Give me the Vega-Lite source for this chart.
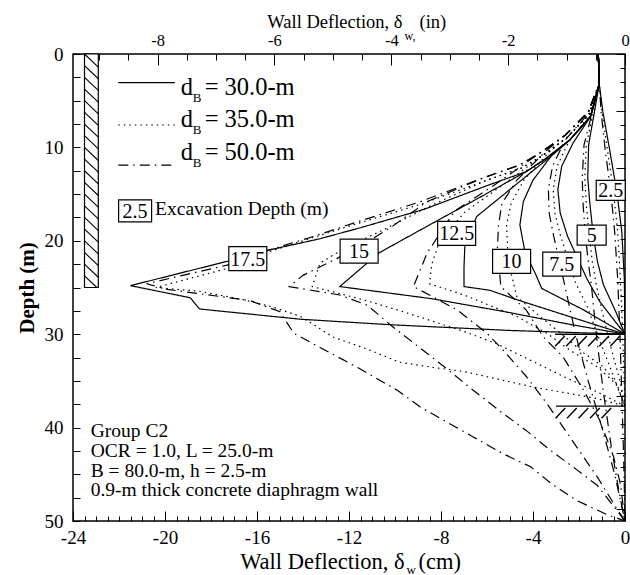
{
  "$schema": "https://vega.github.io/schema/vega-lite/v6.json",
  "width": 552,
  "height": 467,
  "autosize": {"type": "none"},
  "padding": {"left": 73, "top": 54, "right": 5, "bottom": 54},
  "background": "white",
  "config": {
    "view": {"stroke": "black", "strokeWidth": 1.5},
    "font": "Liberation Serif",
    "axis": {
      "grid": false, "domain": false, "tickColor": "black", "tickWidth": 1,
      "labelColor": "black", "titleColor": "black",
      "labelFont": "Liberation Serif", "titleFont": "Liberation Serif",
      "titleFontWeight": "normal", "labelOverlap": false, "labelFlush": false
    },
    "text": {"font": "Liberation Serif", "color": "black"}
  },
  "datasets": {
    "curves": [
      {"dB":30,"exc":2.5,"x":-1.16,"depth":0},{"dB":30,"exc":2.5,"x":-1.12,"depth":3.2},{"dB":30,"exc":2.5,"x":-0.96,"depth":6.2},{"dB":30,"exc":2.5,"x":-0.65,"depth":10.5},{"dB":30,"exc":2.5,"x":-0.36,"depth":14.7},{"dB":30,"exc":2.5,"x":-0.14,"depth":19},{"dB":30,"exc":2.5,"x":-0.03,"depth":24},{"dB":30,"exc":2.5,"x":0,"depth":30},
      {"dB":30,"exc":5,"x":-1.16,"depth":0},{"dB":30,"exc":5,"x":-1.12,"depth":3.2},{"dB":30,"exc":5,"x":-1.35,"depth":6.5},{"dB":30,"exc":5,"x":-1.58,"depth":9.7},{"dB":30,"exc":5,"x":-1.62,"depth":13.3},{"dB":30,"exc":5,"x":-1.52,"depth":16.2},{"dB":30,"exc":5,"x":-1.38,"depth":19.4},{"dB":30,"exc":5,"x":-1.2,"depth":22.2},{"dB":30,"exc":5,"x":-0.94,"depth":24.7},{"dB":30,"exc":5,"x":-0.4,"depth":27.6},{"dB":30,"exc":5,"x":0,"depth":30},
      {"dB":30,"exc":7.5,"x":-1.16,"depth":0},{"dB":30,"exc":7.5,"x":-1.12,"depth":3.2},{"dB":30,"exc":7.5,"x":-1.5,"depth":6.7},{"dB":30,"exc":7.5,"x":-2.25,"depth":9.5},{"dB":30,"exc":7.5,"x":-2.75,"depth":12},{"dB":30,"exc":7.5,"x":-2.92,"depth":14.5},{"dB":30,"exc":7.5,"x":-2.82,"depth":17},{"dB":30,"exc":7.5,"x":-2.5,"depth":19.5},{"dB":30,"exc":7.5,"x":-2.0,"depth":22.2},{"dB":30,"exc":7.5,"x":-1.67,"depth":24},{"dB":30,"exc":7.5,"x":-1.1,"depth":26.5},{"dB":30,"exc":7.5,"x":0,"depth":30},
      {"dB":30,"exc":10,"x":-1.16,"depth":0},{"dB":30,"exc":10,"x":-1.12,"depth":3.2},{"dB":30,"exc":10,"x":-1.5,"depth":6.7},{"dB":30,"exc":10,"x":-2.4,"depth":9.2},{"dB":30,"exc":10,"x":-3.2,"depth":10.9},{"dB":30,"exc":10,"x":-4.0,"depth":13.5},{"dB":30,"exc":10,"x":-4.42,"depth":15.8},{"dB":30,"exc":10,"x":-4.57,"depth":18.3},{"dB":30,"exc":10,"x":-4.35,"depth":21.2},{"dB":30,"exc":10,"x":-3.9,"depth":23.5},{"dB":30,"exc":10,"x":-3.62,"depth":25.1},{"dB":30,"exc":10,"x":-1.8,"depth":27.4},{"dB":30,"exc":10,"x":0,"depth":30},
      {"dB":30,"exc":12.5,"x":-1.16,"depth":0},{"dB":30,"exc":12.5,"x":-1.12,"depth":3.2},{"dB":30,"exc":12.5,"x":-1.5,"depth":6.7},{"dB":30,"exc":12.5,"x":-2.4,"depth":9.2},{"dB":30,"exc":12.5,"x":-3.4,"depth":11.3},{"dB":30,"exc":12.5,"x":-5.0,"depth":14.5},{"dB":30,"exc":12.5,"x":-6.45,"depth":17.4},{"dB":30,"exc":12.5,"x":-6.96,"depth":20.4},{"dB":30,"exc":12.5,"x":-7.0,"depth":22.8},{"dB":30,"exc":12.5,"x":-7.0,"depth":24.9},{"dB":30,"exc":12.5,"x":-5.87,"depth":25.3},{"dB":30,"exc":12.5,"x":-4.71,"depth":26.3},{"dB":30,"exc":12.5,"x":-2.68,"depth":27.9},{"dB":30,"exc":12.5,"x":0,"depth":30},
      {"dB":30,"exc":15,"x":-1.16,"depth":0},{"dB":30,"exc":15,"x":-1.12,"depth":3.2},{"dB":30,"exc":15,"x":-1.5,"depth":6.7},{"dB":30,"exc":15,"x":-2.4,"depth":9.2},{"dB":30,"exc":15,"x":-3.5,"depth":11.3},{"dB":30,"exc":15,"x":-4.3,"depth":12.6},{"dB":30,"exc":15,"x":-6.5,"depth":15.6},{"dB":30,"exc":15,"x":-8.5,"depth":18.3},{"dB":30,"exc":15,"x":-10.7,"depth":21.3},{"dB":30,"exc":15,"x":-12.4,"depth":24.9},{"dB":30,"exc":15,"x":-8.4,"depth":26.2},{"dB":30,"exc":15,"x":-5.2,"depth":27.6},{"dB":30,"exc":15,"x":-2.5,"depth":28.9},{"dB":30,"exc":15,"x":0,"depth":30},
      {"dB":30,"exc":17.5,"x":-1.16,"depth":0},{"dB":30,"exc":17.5,"x":-1.12,"depth":3.2},{"dB":30,"exc":17.5,"x":-1.5,"depth":6.7},{"dB":30,"exc":17.5,"x":-2.4,"depth":9.2},{"dB":30,"exc":17.5,"x":-3.5,"depth":11.3},{"dB":30,"exc":17.5,"x":-4.3,"depth":12.6},{"dB":30,"exc":17.5,"x":-5.9,"depth":14.0},{"dB":30,"exc":17.5,"x":-8.7,"depth":16.6},{"dB":30,"exc":17.5,"x":-11.5,"depth":18.6},{"dB":30,"exc":17.5,"x":-13.3,"depth":19.8},{"dB":30,"exc":17.5,"x":-15.5,"depth":21.0},{"dB":30,"exc":17.5,"x":-17.3,"depth":22.2},{"dB":30,"exc":17.5,"x":-21.5,"depth":24.8},{"dB":30,"exc":17.5,"x":-18.9,"depth":26.1},{"dB":30,"exc":17.5,"x":-18.5,"depth":27.3},{"dB":30,"exc":17.5,"x":-14.1,"depth":28.4},{"dB":30,"exc":17.5,"x":-10.1,"depth":29.0},{"dB":30,"exc":17.5,"x":-5,"depth":29.6},{"dB":30,"exc":17.5,"x":0,"depth":30},

      {"dB":35,"exc":2.5,"x":-1.16,"depth":0},{"dB":35,"exc":2.5,"x":-1.12,"depth":3.2},{"dB":35,"exc":2.5,"x":-1.0,"depth":6.2},{"dB":35,"exc":2.5,"x":-0.75,"depth":10.5},{"dB":35,"exc":2.5,"x":-0.5,"depth":14.7},{"dB":35,"exc":2.5,"x":-0.32,"depth":19},{"dB":35,"exc":2.5,"x":-0.2,"depth":24},{"dB":35,"exc":2.5,"x":-0.1,"depth":30},{"dB":35,"exc":2.5,"x":0,"depth":37.7},
      {"dB":35,"exc":5,"x":-1.16,"depth":0},{"dB":35,"exc":5,"x":-1.12,"depth":3.2},{"dB":35,"exc":5,"x":-1.4,"depth":6.5},{"dB":35,"exc":5,"x":-1.68,"depth":9.7},{"dB":35,"exc":5,"x":-1.75,"depth":13.3},{"dB":35,"exc":5,"x":-1.68,"depth":16.2},{"dB":35,"exc":5,"x":-1.56,"depth":19.4},{"dB":35,"exc":5,"x":-1.42,"depth":22.2},{"dB":35,"exc":5,"x":-1.25,"depth":24.7},{"dB":35,"exc":5,"x":-0.95,"depth":28},{"dB":35,"exc":5,"x":-0.55,"depth":32},{"dB":35,"exc":5,"x":-0.22,"depth":35},{"dB":35,"exc":5,"x":0,"depth":37.7},
      {"dB":35,"exc":7.5,"x":-1.16,"depth":0},{"dB":35,"exc":7.5,"x":-1.12,"depth":3.2},{"dB":35,"exc":7.5,"x":-1.55,"depth":6.6},{"dB":35,"exc":7.5,"x":-2.45,"depth":9.4},{"dB":35,"exc":7.5,"x":-2.95,"depth":12},{"dB":35,"exc":7.5,"x":-3.12,"depth":14.5},{"dB":35,"exc":7.5,"x":-3.05,"depth":17},{"dB":35,"exc":7.5,"x":-2.8,"depth":19.5},{"dB":35,"exc":7.5,"x":-2.45,"depth":22.2},{"dB":35,"exc":7.5,"x":-2.15,"depth":24.5},{"dB":35,"exc":7.5,"x":-1.65,"depth":27},{"dB":35,"exc":7.5,"x":-1.05,"depth":31},{"dB":35,"exc":7.5,"x":-0.5,"depth":34.5},{"dB":35,"exc":7.5,"x":0,"depth":37.7},
      {"dB":35,"exc":10,"x":-1.16,"depth":0},{"dB":35,"exc":10,"x":-1.12,"depth":3.2},{"dB":35,"exc":10,"x":-1.55,"depth":6.4},{"dB":35,"exc":10,"x":-2.5,"depth":8.9},{"dB":35,"exc":10,"x":-3.3,"depth":10.5},{"dB":35,"exc":10,"x":-4.4,"depth":13.5},{"dB":35,"exc":10,"x":-4.95,"depth":16},{"dB":35,"exc":10,"x":-5.15,"depth":18.3},{"dB":35,"exc":10,"x":-5.1,"depth":21},{"dB":35,"exc":10,"x":-4.95,"depth":23.5},{"dB":35,"exc":10,"x":-4.7,"depth":26},{"dB":35,"exc":10,"x":-3.7,"depth":28.1},{"dB":35,"exc":10,"x":-2.7,"depth":30.1},{"dB":35,"exc":10,"x":-1.8,"depth":32},{"dB":35,"exc":10,"x":-0.94,"depth":33.5},{"dB":35,"exc":10,"x":-0.36,"depth":35.3},{"dB":35,"exc":10,"x":0,"depth":37.7},
      {"dB":35,"exc":12.5,"x":-1.16,"depth":0},{"dB":35,"exc":12.5,"x":-1.12,"depth":3.2},{"dB":35,"exc":12.5,"x":-1.55,"depth":6.4},{"dB":35,"exc":12.5,"x":-2.5,"depth":8.9},{"dB":35,"exc":12.5,"x":-3.6,"depth":10.9},{"dB":35,"exc":12.5,"x":-5.3,"depth":14.0},{"dB":35,"exc":12.5,"x":-7.0,"depth":17.0},{"dB":35,"exc":12.5,"x":-8.1,"depth":20.3},{"dB":35,"exc":12.5,"x":-8.4,"depth":22.5},{"dB":35,"exc":12.5,"x":-8.5,"depth":24.6},{"dB":35,"exc":12.5,"x":-7.0,"depth":25.8},{"dB":35,"exc":12.5,"x":-4.7,"depth":28.1},{"dB":35,"exc":12.5,"x":-3.4,"depth":29.9},{"dB":35,"exc":12.5,"x":-2.4,"depth":31.7},{"dB":35,"exc":12.5,"x":-1.2,"depth":33.5},{"dB":35,"exc":12.5,"x":-0.4,"depth":35.3},{"dB":35,"exc":12.5,"x":0,"depth":37.7},
      {"dB":35,"exc":15,"x":-1.16,"depth":0},{"dB":35,"exc":15,"x":-1.12,"depth":3.2},{"dB":35,"exc":15,"x":-1.55,"depth":6.4},{"dB":35,"exc":15,"x":-2.5,"depth":8.9},{"dB":35,"exc":15,"x":-3.6,"depth":10.9},{"dB":35,"exc":15,"x":-4.5,"depth":12.2},{"dB":35,"exc":15,"x":-6.1,"depth":13.6},{"dB":35,"exc":15,"x":-8.5,"depth":16.3},{"dB":35,"exc":15,"x":-10.65,"depth":19.0},{"dB":35,"exc":15,"x":-12.2,"depth":20.8},{"dB":35,"exc":15,"x":-13.26,"depth":22.4},{"dB":35,"exc":15,"x":-13.6,"depth":24.9},{"dB":35,"exc":15,"x":-12.8,"depth":25.4},{"dB":35,"exc":15,"x":-11.4,"depth":26.3},{"dB":35,"exc":15,"x":-9.9,"depth":27.4},{"dB":35,"exc":15,"x":-8.5,"depth":28.5},{"dB":35,"exc":15,"x":-7.0,"depth":29.7},{"dB":35,"exc":15,"x":-5.6,"depth":31.0},{"dB":35,"exc":15,"x":-4.1,"depth":32.8},{"dB":35,"exc":15,"x":-2.7,"depth":34.5},{"dB":35,"exc":15,"x":-1.2,"depth":36.2},{"dB":35,"exc":15,"x":0,"depth":37.7},
      {"dB":35,"exc":17.5,"x":-1.16,"depth":0},{"dB":35,"exc":17.5,"x":-1.12,"depth":3.2},{"dB":35,"exc":17.5,"x":-1.55,"depth":6.4},{"dB":35,"exc":17.5,"x":-2.5,"depth":8.9},{"dB":35,"exc":17.5,"x":-3.6,"depth":10.9},{"dB":35,"exc":17.5,"x":-4.5,"depth":12.2},{"dB":35,"exc":17.5,"x":-6.1,"depth":13.6},{"dB":35,"exc":17.5,"x":-8.9,"depth":16.1},{"dB":35,"exc":17.5,"x":-11.7,"depth":18.2},{"dB":35,"exc":17.5,"x":-13.5,"depth":19.6},{"dB":35,"exc":17.5,"x":-15.5,"depth":21.2},{"dB":35,"exc":17.5,"x":-17.2,"depth":22.9},{"dB":35,"exc":17.5,"x":-20.4,"depth":25.0},{"dB":35,"exc":17.5,"x":-18.5,"depth":25.4},{"dB":35,"exc":17.5,"x":-16.6,"depth":26.3},{"dB":35,"exc":17.5,"x":-15.3,"depth":27.1},{"dB":35,"exc":17.5,"x":-14.1,"depth":28.1},{"dB":35,"exc":17.5,"x":-12.7,"depth":30.3},{"dB":35,"exc":17.5,"x":-11.2,"depth":31.6},{"dB":35,"exc":17.5,"x":-9.8,"depth":33.0},{"dB":35,"exc":17.5,"x":-8.5,"depth":33.5},{"dB":35,"exc":17.5,"x":-7.0,"depth":34.0},{"dB":35,"exc":17.5,"x":-4.1,"depth":35.6},{"dB":35,"exc":17.5,"x":-1.2,"depth":36.9},{"dB":35,"exc":17.5,"x":0,"depth":37.7},

      {"dB":50,"exc":2.5,"x":-1.16,"depth":0},{"dB":50,"exc":2.5,"x":-1.12,"depth":3.2},{"dB":50,"exc":2.5,"x":-1.04,"depth":6.2},{"dB":50,"exc":2.5,"x":-0.85,"depth":10.5},{"dB":50,"exc":2.5,"x":-0.62,"depth":14.7},{"dB":50,"exc":2.5,"x":-0.45,"depth":19},{"dB":50,"exc":2.5,"x":-0.32,"depth":24},{"dB":50,"exc":2.5,"x":-0.22,"depth":30},{"dB":50,"exc":2.5,"x":-0.12,"depth":38},{"dB":50,"exc":2.5,"x":-0.04,"depth":45},{"dB":50,"exc":2.5,"x":0,"depth":50},
      {"dB":50,"exc":5,"x":-1.16,"depth":0},{"dB":50,"exc":5,"x":-1.12,"depth":3.2},{"dB":50,"exc":5,"x":-1.45,"depth":6.5},{"dB":50,"exc":5,"x":-1.78,"depth":9.7},{"dB":50,"exc":5,"x":-1.86,"depth":13.3},{"dB":50,"exc":5,"x":-1.82,"depth":16.2},{"dB":50,"exc":5,"x":-1.72,"depth":19.4},{"dB":50,"exc":5,"x":-1.6,"depth":22.2},{"dB":50,"exc":5,"x":-1.45,"depth":25},{"dB":50,"exc":5,"x":-1.25,"depth":30},{"dB":50,"exc":5,"x":-0.95,"depth":36},{"dB":50,"exc":5,"x":-0.6,"depth":42},{"dB":50,"exc":5,"x":-0.25,"depth":47},{"dB":50,"exc":5,"x":0,"depth":50},
      {"dB":50,"exc":7.5,"x":-1.16,"depth":0},{"dB":50,"exc":7.5,"x":-1.12,"depth":3.2},{"dB":50,"exc":7.5,"x":-1.6,"depth":6.4},{"dB":50,"exc":7.5,"x":-2.6,"depth":9.2},{"dB":50,"exc":7.5,"x":-3.15,"depth":12},{"dB":50,"exc":7.5,"x":-3.33,"depth":14.5},{"dB":50,"exc":7.5,"x":-3.3,"depth":17},{"dB":50,"exc":7.5,"x":-3.1,"depth":19.5},{"dB":50,"exc":7.5,"x":-2.85,"depth":22.2},{"dB":50,"exc":7.5,"x":-2.6,"depth":25},{"dB":50,"exc":7.5,"x":-2.15,"depth":30},{"dB":50,"exc":7.5,"x":-1.6,"depth":35},{"dB":50,"exc":7.5,"x":-1.0,"depth":40},{"dB":50,"exc":7.5,"x":-0.45,"depth":45},{"dB":50,"exc":7.5,"x":0,"depth":50},
      {"dB":50,"exc":10,"x":-1.16,"depth":0},{"dB":50,"exc":10,"x":-1.12,"depth":3.2},{"dB":50,"exc":10,"x":-1.6,"depth":6.2},{"dB":50,"exc":10,"x":-2.6,"depth":8.7},{"dB":50,"exc":10,"x":-3.4,"depth":10.3},{"dB":50,"exc":10,"x":-4.7,"depth":13.5},{"dB":50,"exc":10,"x":-5.35,"depth":16},{"dB":50,"exc":10,"x":-5.5,"depth":18.3},{"dB":50,"exc":10,"x":-5.55,"depth":21},{"dB":50,"exc":10,"x":-5.45,"depth":23.5},{"dB":50,"exc":10,"x":-5.4,"depth":24.9},{"dB":50,"exc":10,"x":-4.3,"depth":27.4},{"dB":50,"exc":10,"x":-3.55,"depth":30.3},{"dB":50,"exc":10,"x":-2.7,"depth":32.4},{"dB":50,"exc":10,"x":-1.8,"depth":36},{"dB":50,"exc":10,"x":-1.1,"depth":39.2},{"dB":50,"exc":10,"x":-0.5,"depth":43.1},{"dB":50,"exc":10,"x":-0.2,"depth":46},{"dB":50,"exc":10,"x":0,"depth":50},
      {"dB":50,"exc":12.5,"x":-1.16,"depth":0},{"dB":50,"exc":12.5,"x":-1.12,"depth":3.2},{"dB":50,"exc":12.5,"x":-1.6,"depth":6.2},{"dB":50,"exc":12.5,"x":-2.6,"depth":8.7},{"dB":50,"exc":12.5,"x":-3.7,"depth":10.6},{"dB":50,"exc":12.5,"x":-5.6,"depth":13.9},{"dB":50,"exc":12.5,"x":-7.4,"depth":16.8},{"dB":50,"exc":12.5,"x":-8.6,"depth":21.3},{"dB":50,"exc":12.5,"x":-9.2,"depth":24.9},{"dB":50,"exc":12.5,"x":-8.2,"depth":26.2},{"dB":50,"exc":12.5,"x":-7.3,"depth":27.4},{"dB":50,"exc":12.5,"x":-6.0,"depth":29.9},{"dB":50,"exc":12.5,"x":-5.3,"depth":31.7},{"dB":50,"exc":12.5,"x":-4.3,"depth":34.5},{"dB":50,"exc":12.5,"x":-3.4,"depth":37.4},{"dB":50,"exc":12.5,"x":-2.4,"depth":41},{"dB":50,"exc":12.5,"x":-1.2,"depth":45.3},{"dB":50,"exc":12.5,"x":-0.4,"depth":48.5},{"dB":50,"exc":12.5,"x":0,"depth":50},
      {"dB":50,"exc":15,"x":-1.16,"depth":0},{"dB":50,"exc":15,"x":-1.12,"depth":3.2},{"dB":50,"exc":15,"x":-1.6,"depth":6.2},{"dB":50,"exc":15,"x":-2.6,"depth":8.7},{"dB":50,"exc":15,"x":-3.7,"depth":10.6},{"dB":50,"exc":15,"x":-4.6,"depth":11.9},{"dB":50,"exc":15,"x":-6.2,"depth":13.3},{"dB":50,"exc":15,"x":-8.6,"depth":15.8},{"dB":50,"exc":15,"x":-10.2,"depth":18.6},{"dB":50,"exc":15,"x":-11.8,"depth":21},{"dB":50,"exc":15,"x":-14.0,"depth":23.7},{"dB":50,"exc":15,"x":-14.6,"depth":24.9},{"dB":50,"exc":15,"x":-12.4,"depth":25.8},{"dB":50,"exc":15,"x":-11.2,"depth":26.9},{"dB":50,"exc":15,"x":-10.1,"depth":29.2},{"dB":50,"exc":15,"x":-9.0,"depth":31.3},{"dB":50,"exc":15,"x":-7.75,"depth":33.7},{"dB":50,"exc":15,"x":-6.6,"depth":36},{"dB":50,"exc":15,"x":-5.4,"depth":38.3},{"dB":50,"exc":15,"x":-4.3,"depth":40.3},{"dB":50,"exc":15,"x":-3.26,"depth":42.4},{"dB":50,"exc":15,"x":-2.1,"depth":44.5},{"dB":50,"exc":15,"x":-1.2,"depth":46.2},{"dB":50,"exc":15,"x":0,"depth":50},
      {"dB":50,"exc":17.5,"x":-1.16,"depth":0},{"dB":50,"exc":17.5,"x":-1.12,"depth":3.2},{"dB":50,"exc":17.5,"x":-1.6,"depth":6.2},{"dB":50,"exc":17.5,"x":-2.6,"depth":8.7},{"dB":50,"exc":17.5,"x":-3.7,"depth":10.6},{"dB":50,"exc":17.5,"x":-4.6,"depth":11.9},{"dB":50,"exc":17.5,"x":-6.2,"depth":13.3},{"dB":50,"exc":17.5,"x":-9.0,"depth":15.9},{"dB":50,"exc":17.5,"x":-11.8,"depth":18.1},{"dB":50,"exc":17.5,"x":-13.5,"depth":19.5},{"dB":50,"exc":17.5,"x":-15.5,"depth":21.0},{"dB":50,"exc":17.5,"x":-17.3,"depth":22.6},{"dB":50,"exc":17.5,"x":-20.8,"depth":24.6},{"dB":50,"exc":17.5,"x":-19.9,"depth":25.2},{"dB":50,"exc":17.5,"x":-16.3,"depth":26.4},{"dB":50,"exc":17.5,"x":-15.0,"depth":27.6},{"dB":50,"exc":17.5,"x":-14.4,"depth":29.9},{"dB":50,"exc":17.5,"x":-13.2,"depth":31.5},{"dB":50,"exc":17.5,"x":-11.6,"depth":33.6},{"dB":50,"exc":17.5,"x":-9.9,"depth":36.0},{"dB":50,"exc":17.5,"x":-8.9,"depth":37.8},{"dB":50,"exc":17.5,"x":-7.75,"depth":39.4},{"dB":50,"exc":17.5,"x":-6.6,"depth":41},{"dB":50,"exc":17.5,"x":-5.3,"depth":42.8},{"dB":50,"exc":17.5,"x":-4.1,"depth":44.2},{"dB":50,"exc":17.5,"x":-3.2,"depth":46},{"dB":50,"exc":17.5,"x":-2.1,"depth":47.8},{"dB":50,"exc":17.5,"x":-0.8,"depth":49.3},{"dB":50,"exc":17.5,"x":0,"depth":50}
    ],
    "keyLines": [
      {"dB":30,"x":-22.03,"x2":-19.57,"depth":3.07},
      {"dB":35,"x":-22.03,"x2":-19.57,"depth":7.6},
      {"dB":50,"x":-22.03,"x2":-19.57,"depth":11.9}
    ],
    "keyText": [
      {"dB":30,"x":-19.32,"depth":4.39},
      {"dB":35,"x":-19.32,"depth":7.85},
      {"dB":50,"x":-19.32,"depth":11.35}
    ],
    "wall": [{"x":-23.5,"x2":-22.9,"depth":0,"depth2":25}],
    "wallHatch": [
      {"x":-23.5,"depth":0,"x2":-22.9,"depth2":1.4},{"x":-23.5,"depth":1.25,"x2":-22.9,"depth2":2.65},{"x":-23.5,"depth":2.5,"x2":-22.9,"depth2":3.9},{"x":-23.5,"depth":3.75,"x2":-22.9,"depth2":5.15},{"x":-23.5,"depth":5,"x2":-22.9,"depth2":6.4},{"x":-23.5,"depth":6.25,"x2":-22.9,"depth2":7.65},{"x":-23.5,"depth":7.5,"x2":-22.9,"depth2":8.9},{"x":-23.5,"depth":8.75,"x2":-22.9,"depth2":10.15},{"x":-23.5,"depth":10,"x2":-22.9,"depth2":11.4},{"x":-23.5,"depth":11.25,"x2":-22.9,"depth2":12.65},{"x":-23.5,"depth":12.5,"x2":-22.9,"depth2":13.9},{"x":-23.5,"depth":13.75,"x2":-22.9,"depth2":15.15},{"x":-23.5,"depth":15,"x2":-22.9,"depth2":16.4},{"x":-23.5,"depth":16.25,"x2":-22.9,"depth2":17.65},{"x":-23.5,"depth":17.5,"x2":-22.9,"depth2":18.9},{"x":-23.5,"depth":18.75,"x2":-22.9,"depth2":20.15},{"x":-23.5,"depth":20,"x2":-22.9,"depth2":21.4},{"x":-23.5,"depth":21.25,"x2":-22.9,"depth2":22.65},{"x":-23.5,"depth":22.5,"x2":-22.9,"depth2":23.9},{"x":-23.5,"depth":23.75,"x2":-22.96,"depth2":25}
    ],
    "strata": [
      {"x":-3.04,"depth":30,"x2":0,"depth2":30},
      {"x":-2.62,"depth":30.2,"x2":-3.04,"depth2":31.3},{"x":-2.14,"depth":30.2,"x2":-2.56,"depth2":31.3},{"x":-1.66,"depth":30.2,"x2":-2.08,"depth2":31.3},{"x":-1.18,"depth":30.2,"x2":-1.6,"depth2":31.3},{"x":-0.7,"depth":30.2,"x2":-1.12,"depth2":31.3},{"x":-0.22,"depth":30.2,"x2":-0.64,"depth2":31.3},
      {"x":-3.0,"depth":37.7,"x2":0,"depth2":37.7},
      {"x":-2.6,"depth":37.9,"x2":-3.02,"depth2":39.0},{"x":-2.1,"depth":37.9,"x2":-2.52,"depth2":39.0},{"x":-1.6,"depth":37.9,"x2":-2.02,"depth2":39.0},{"x":-1.1,"depth":37.9,"x2":-1.52,"depth2":39.0},{"x":-0.6,"depth":37.9,"x2":-1.02,"depth2":39.0}
    ],
    "tags": [
      {"exc":17.5,"role":"curve","x":-16.4,"depth":21.9},
      {"exc":15,"role":"curve","x":-11.56,"depth":21.1},
      {"exc":12.5,"role":"curve","x":-7.32,"depth":19.2},
      {"exc":10,"role":"curve","x":-4.93,"depth":22.2},
      {"exc":7.5,"role":"curve","x":-2.75,"depth":22.5},
      {"exc":5,"role":"curve","x":-1.45,"depth":19.4},
      {"exc":2.5,"role":"curve","x":-0.62,"depth":14.6},
      {"exc":2.5,"role":"key","x":-21.3,"depth":16.8}
    ],
    "notes": [
      {"text":"Group C2","x":-23.23,"depth":41.0},
      {"text":"OCR = 1.0, L = 25.0-m","x":-23.23,"depth":43.1},
      {"text":"B = 80.0-m, h = 2.5-m","x":-23.23,"depth":45.26},
      {"text":"0.9-m thick concrete diaphragm wall","x":-23.23,"depth":47.3}
    ],
    "keyNote": [{"text":"Excavation Depth (m)","x":-20.43,"depth":17.24}]
  },
  "layer": [
    {
      "data": {"name": "curves"},
      "mark": {"type": "line", "color": "black", "strokeWidth": 1.2, "clip": true},
      "encoding": {
        "x": {"field": "x", "type": "quantitative", "scale": {"domain": [-24, 0], "nice": false, "zero": false},
          "axis": {"orient": "bottom", "values": [-24, -20, -16, -12, -8, -4, 0], "tickSize": -10, "labelPadding": 17,
            "labelFontSize": 19, "labelBaseline": "top",
            "labelExpr": "datum.value < 0 ? '-' + abs(datum.value) : '0'",
            "title": "Wall Deflection, δ", "titleFontSize": 22.5, "titleX": 331, "titleY": 47,
            "titleAlign": "right", "titleBaseline": "alphabetic"}},
        "y": {"field": "depth", "type": "quantitative", "scale": {"domain": [0, 50], "reverse": true, "nice": false, "zero": false},
          "axis": {"orient": "left", "values": [0, 2.5, 5, 7.5, 10, 12.5, 15, 17.5, 20, 22.5, 25, 27.5, 30, 32.5, 35, 37.5, 40, 42.5, 45, 47.5, 50],
            "tickSize": -7, "labelPadding": 17, "labelFontSize": 19, "labelBaseline": "middle",
            "labelExpr": "datum.value % 10 == 0 ? '' + datum.value : ''",
            "title": "Depth (m)", "titleFontSize": 21, "titleFontWeight": "bold", "titleAngle": -90,
            "titleX": -46, "titleY": 233.5, "titleAlign": "center", "titleBaseline": "middle"}},
        "detail": {"field": "exc", "type": "nominal"},
        "strokeDash": {"field": "dB", "type": "nominal", "scale": {"domain": [30, 35, 50], "range": [[1, 0], [1.5, 4], [10, 5, 1.5, 5]]}, "legend": null},
        "order": {"value": null}
      }
    },
    {
      "data": {"name": "keyLines"},
      "mark": {"type": "rule", "color": "black", "strokeWidth": 1.2},
      "encoding": {
        "x": {"field": "x", "type": "quantitative", "scale": {"domain": [-24, 0], "nice": false, "zero": false},
          "axis": {"orient": "bottom", "values": [-24, -23.5, -23, -22.5, -22, -21.5, -21, -20.5, -20, -19.5, -19, -18.5, -18, -17.5, -17, -16.5, -16, -15.5, -15, -14.5, -14, -13.5, -13, -12.5, -12, -11.5, -11, -10.5, -10, -9.5, -9, -8.5, -8, -7.5, -7, -6.5, -6, -5.5, -5, -4.5, -4, -3.5, -3, -2.5, -2, -1.5, -1, -0.5, 0],
            "tickSize": -5, "labels": false,
            "title": "(cm)", "titleFontSize": 22.5, "titleX": 345, "titleY": 47, "titleAlign": "left", "titleBaseline": "alphabetic"}},
        "x2": {"field": "x2"},
        "y": {"field": "depth", "type": "quantitative", "scale": {"domain": [0, 50], "reverse": true, "nice": false, "zero": false},
          "axis": {"orient": "right", "values": [0, 1.524, 3.048, 4.572, 6.096, 7.62, 9.144, 10.668, 12.192, 13.716, 15.24, 16.764, 18.288, 19.812, 21.336, 22.86, 24.384, 25.908, 27.432, 28.956, 30.48, 32.004, 33.528, 35.052, 36.576, 38.1, 39.624, 41.148, 42.672, 44.196, 45.72, 47.244, 48.768],
            "tickSize": -5, "labels": false, "title": null}},
        "strokeDash": {"field": "dB", "type": "nominal", "scale": {"domain": [30, 35, 50], "range": [[1, 0], [1.5, 4], [10, 5, 1.5, 5]]}, "legend": null}
      }
    },
    {
      "data": {"name": "wall"},
      "mark": {"type": "rect", "fill": "white", "stroke": "black", "strokeWidth": 1.2},
      "encoding": {
        "x": {"field": "x", "type": "quantitative", "scale": {"domain": [-24, 0], "nice": false, "zero": false},
          "axis": {"orient": "top", "values": [-20.32, -15.24, -10.16, -5.08, 0], "tickSize": -11, "labelPadding": 17,
            "labelFontSize": 16.5, "labelBaseline": "bottom",
            "labelExpr": "datum.value < 0 ? '-' + round(-datum.value / 2.54) : '0'",
            "title": "Wall Deflection, δ", "titleFontSize": 18.5, "titleX": 329, "titleY": -27,
            "titleAlign": "right", "titleBaseline": "alphabetic"}},
        "x2": {"field": "x2"},
        "y": {"field": "depth", "type": "quantitative", "scale": {"domain": [0, 50], "reverse": true, "nice": false, "zero": false},
          "axis": {"orient": "right", "values": [0, 6.096, 12.192, 18.288, 24.384, 30.48, 36.576, 42.672, 48.768],
            "tickSize": -9, "labels": false, "title": null}},
        "y2": {"field": "depth2"}
      }
    },
    {
      "data": {"name": "wallHatch"},
      "mark": {"type": "rule", "color": "black", "strokeWidth": 1.1},
      "encoding": {
        "x": {"field": "x", "type": "quantitative", "scale": {"domain": [-24, 0], "nice": false, "zero": false},
          "axis": {"orient": "top", "values": [-22.86, -21.59, -20.32, -19.05, -17.78, -16.51, -15.24, -13.97, -12.7, -11.43, -10.16, -8.89, -7.62, -6.35, -5.08, -3.81, -2.54, -1.27, 0],
            "tickSize": -6, "labels": false,
            "title": "(in)", "titleFontSize": 18.5, "titleX": 346, "titleY": -27, "titleAlign": "left", "titleBaseline": "alphabetic"}},
        "x2": {"field": "x2"},
        "y": {"field": "depth", "type": "quantitative", "scale": {"domain": [0, 50], "reverse": true, "nice": false, "zero": false}, "axis": null},
        "y2": {"field": "depth2"}
      }
    },
    {
      "data": {"name": "strata"},
      "mark": {"type": "rule", "color": "black", "strokeWidth": 1.4},
      "encoding": {
        "x": {"field": "x", "type": "quantitative", "scale": {"domain": [-24, 0], "nice": false, "zero": false},
          "axis": {"orient": "top", "ticks": false, "labels": false,
            "title": "w,", "titleFontSize": 12, "titleX": 331, "titleY": -15, "titleAlign": "left", "titleBaseline": "alphabetic"}},
        "x2": {"field": "x2"},
        "y": {"field": "depth", "type": "quantitative", "scale": {"domain": [0, 50], "reverse": true, "nice": false, "zero": false}, "axis": null},
        "y2": {"field": "depth2"}
      }
    },
    {
      "data": {"name": "tags"},
      "transform": [{"filter": "datum.role == 'curve' && datum.exc > 5"}],
      "mark": {"type": "rect", "width": 38, "height": 24, "align": "center", "baseline": "middle", "fill": "white", "stroke": "black", "strokeWidth": 1.2},
      "encoding": {
        "x": {"field": "x", "type": "quantitative", "scale": {"domain": [-24, 0], "nice": false, "zero": false},
          "axis": {"orient": "bottom", "ticks": false, "labels": false,
            "title": "w", "titleFontSize": 13, "titleX": 333, "titleY": 52, "titleAlign": "left", "titleBaseline": "alphabetic"}},
        "y": {"field": "depth", "type": "quantitative", "scale": {"domain": [0, 50], "reverse": true, "nice": false, "zero": false}, "axis": null}
      }
    },
    {
      "data": {"name": "tags"},
      "transform": [{"filter": "datum.role == 'curve' && datum.exc <= 5"}],
      "mark": {"type": "rect", "width": 29, "height": 20, "align": "center", "baseline": "middle", "fill": "white", "stroke": "black", "strokeWidth": 1.2},
      "encoding": {
        "x": {"field": "x", "type": "quantitative", "scale": {"domain": [-24, 0], "nice": false, "zero": false}, "axis": null},
        "y": {"field": "depth", "type": "quantitative", "scale": {"domain": [0, 50], "reverse": true, "nice": false, "zero": false}, "axis": null}
      }
    },
    {
      "data": {"name": "tags"},
      "transform": [{"filter": "datum.role == 'key'"}],
      "mark": {"type": "rect", "width": 33, "height": 22, "align": "center", "baseline": "middle", "fill": "white", "stroke": "black", "strokeWidth": 1.2},
      "encoding": {
        "x": {"field": "x", "type": "quantitative", "scale": {"domain": [-24, 0], "nice": false, "zero": false}, "axis": null},
        "y": {"field": "depth", "type": "quantitative", "scale": {"domain": [0, 50], "reverse": true, "nice": false, "zero": false}, "axis": null}
      }
    },
    {
      "data": {"name": "tags"},
      "mark": {"type": "text", "fontSize": 20, "align": "center", "baseline": "middle", "dy": 1},
      "encoding": {
        "x": {"field": "x", "type": "quantitative", "scale": {"domain": [-24, 0], "nice": false, "zero": false}, "axis": null},
        "y": {"field": "depth", "type": "quantitative", "scale": {"domain": [0, 50], "reverse": true, "nice": false, "zero": false}, "axis": null},
        "text": {"field": "exc", "type": "nominal"}
      }
    },
    {
      "data": {"name": "keyText"},
      "mark": {"type": "text", "text": "d", "fontSize": 24.5, "align": "left", "baseline": "alphabetic"},
      "encoding": {
        "x": {"field": "x", "type": "quantitative", "scale": {"domain": [-24, 0], "nice": false, "zero": false}, "axis": null},
        "y": {"field": "depth", "type": "quantitative", "scale": {"domain": [0, 50], "reverse": true, "nice": false, "zero": false}, "axis": null}
      }
    },
    {
      "data": {"name": "keyText"},
      "mark": {"type": "text", "text": "B", "fontSize": 13, "align": "left", "baseline": "alphabetic", "dx": 12, "dy": 7},
      "encoding": {
        "x": {"field": "x", "type": "quantitative", "scale": {"domain": [-24, 0], "nice": false, "zero": false}, "axis": null},
        "y": {"field": "depth", "type": "quantitative", "scale": {"domain": [0, 50], "reverse": true, "nice": false, "zero": false}, "axis": null}
      }
    },
    {
      "data": {"name": "keyText"},
      "transform": [{"calculate": "'= ' + format(datum.dB, '.1f') + '-m'", "as": "label"}],
      "mark": {"type": "text", "fontSize": 24.5, "align": "left", "baseline": "alphabetic", "dx": 24},
      "encoding": {
        "x": {"field": "x", "type": "quantitative", "scale": {"domain": [-24, 0], "nice": false, "zero": false}, "axis": null},
        "y": {"field": "depth", "type": "quantitative", "scale": {"domain": [0, 50], "reverse": true, "nice": false, "zero": false}, "axis": null},
        "text": {"field": "label"}
      }
    },
    {
      "data": {"name": "keyNote"},
      "mark": {"type": "text", "fontSize": 19.5, "align": "left", "baseline": "alphabetic"},
      "encoding": {
        "x": {"field": "x", "type": "quantitative", "scale": {"domain": [-24, 0], "nice": false, "zero": false}, "axis": null},
        "y": {"field": "depth", "type": "quantitative", "scale": {"domain": [0, 50], "reverse": true, "nice": false, "zero": false}, "axis": null},
        "text": {"field": "text"}
      }
    },
    {
      "data": {"name": "notes"},
      "mark": {"type": "text", "fontSize": 19.5, "align": "left", "baseline": "alphabetic"},
      "encoding": {
        "x": {"field": "x", "type": "quantitative", "scale": {"domain": [-24, 0], "nice": false, "zero": false}, "axis": null},
        "y": {"field": "depth", "type": "quantitative", "scale": {"domain": [0, 50], "reverse": true, "nice": false, "zero": false}, "axis": null},
        "text": {"field": "text"}
      }
    }
  ],
  "resolve": {"axis": {"x": "independent", "y": "independent"}}
}
